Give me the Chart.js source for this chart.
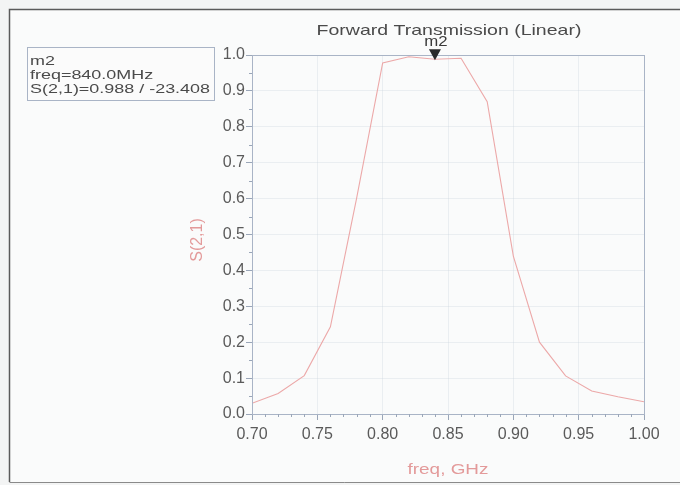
<!DOCTYPE html>
<html>
<head>
<meta charset="utf-8">
<script src="https://cdn.jsdelivr.net/npm/chart.js@4.4.0/dist/chart.umd.min.js"></script>
<style>
  html, body { margin: 0; padding: 0; background: #f3f4f4; }
  #wrap { width: 680px; height: 485px; position: relative; }
</style>
</head>
<body>
<div id="wrap"><canvas id="s21Chart" width="680" height="485"></canvas></div>
<script>
// frequency samples (GHz) and |S(2,1)|
const freqs = [0.70, 0.72, 0.74, 0.76, 0.78, 0.80, 0.82, 0.84, 0.86, 0.88, 0.90, 0.92, 0.94, 0.96, 0.98, 1.00];
const s21 = [0.030, 0.057, 0.107, 0.243, 0.600, 0.978, 0.995, 0.988, 0.991, 0.870, 0.440, 0.200, 0.106, 0.064, 0.048, 0.034];

const xTicks = [0.70, 0.75, 0.80, 0.85, 0.90, 0.95, 1.00];
const yTicks = [0.0, 0.1, 0.2, 0.3, 0.4, 0.5, 0.6, 0.7, 0.8, 0.9, 1.0];

// marker m2
const markerFreq = 0.84;
const markerVal = 0.988;
const markerLines = ["m2", "freq=840.0MHz", "S(2,1)=0.988 / -23.408"];

const FONT = "'Liberation Sans', Arial, sans-serif";

// text in the screenshot is a bit wide, so stretch it horizontally
function wideText(ctx, text, x, y, stretch, align) {
  ctx.save();
  ctx.translate(x, y);
  ctx.scale(stretch, 1);
  ctx.textAlign = align;
  ctx.fillText(text, 0, 0);
  ctx.restore();
}

// Plugin for frame, titles, minor ticks and marker
const decorPlugin = {
  id: "decor",
  beforeDraw(chart) {
    const ctx = chart.ctx;
    ctx.save();
    // page frame
    ctx.fillStyle = "#fafbfb";
    ctx.fillRect(9, 9, 680, 473);
    ctx.strokeStyle = "#5a5a5a";
    ctx.lineWidth = 1.5;
    ctx.beginPath();
    ctx.moveTo(9.5, 482);
    ctx.lineTo(9.5, 9.5);
    ctx.lineTo(680, 9.5);
    ctx.stroke();
    ctx.strokeStyle = "#8a8a8a";
    ctx.lineWidth = 1;
    ctx.beginPath();
    ctx.moveTo(9.5, 482.5);
    ctx.lineTo(680, 482.5);
    ctx.stroke();
    ctx.restore();
  },
  afterDraw(chart) {
    const ctx = chart.ctx;
    const area = chart.chartArea;
    const xs = chart.scales.x;
    const ys = chart.scales.y;
    ctx.save();

    // plot border
    ctx.strokeStyle = "#a9b4c6";
    ctx.lineWidth = 1;
    ctx.strokeRect(Math.round(area.left) + 0.5, Math.round(area.top) + 0.5,
      Math.round(area.right - area.left), Math.round(area.bottom - area.top));

    // minor ticks
    ctx.strokeStyle = "#9aa6b8";
    ctx.beginPath();
    for (let i = 1; i < 30; i++) {
      if (i % 5 === 0) continue;
      const px = Math.round(xs.getPixelForValue(0.70 + i * 0.01)) + 0.5;
      ctx.moveTo(px, area.bottom);
      ctx.lineTo(px, area.bottom + 3);
    }
    for (let i = 0; i < 10; i++) {
      const py = Math.round(ys.getPixelForValue(0.05 + i * 0.1)) + 0.5;
      ctx.moveTo(area.left - 3, py);
      ctx.lineTo(area.left, py);
    }
    ctx.stroke();

    // title
    ctx.fillStyle = "#4a4a4a";
    ctx.font = "15px " + FONT;
    ctx.textBaseline = "middle";
    wideText(ctx, "Forward Transmission (Linear)", 449, 31, 1.3, "center");

    // axis titles
    ctx.fillStyle = "#e39a9a";
    ctx.font = "14px " + FONT;
    wideText(ctx, "freq, GHz", 448, 470, 1.35, "center");
    ctx.save();
    ctx.translate(198, 240);
    ctx.rotate(-Math.PI / 2);
    ctx.font = "16px " + FONT;
    ctx.textAlign = "center";
    ctx.fillText("S(2,1)", 0, 0);
    ctx.restore();

    // marker triangle + label
    const mx = xs.getPixelForValue(markerFreq);
    const my = ys.getPixelForValue(markerVal);
    ctx.fillStyle = "#2a2a2a";
    ctx.beginPath();
    ctx.moveTo(mx, my + 1);
    ctx.lineTo(mx - 6, my - 10);
    ctx.lineTo(mx + 6, my - 10);
    ctx.closePath();
    ctx.fill();
    ctx.fillStyle = "#3a3a3a";
    ctx.font = "14px " + FONT;
    wideText(ctx, "m2", mx + 1, my - 17, 1.2, "center");

    // marker readout box
    ctx.fillStyle = "#fbfbfb";
    ctx.fillRect(27, 47, 187, 53);
    ctx.strokeStyle = "#a9b4c6";
    ctx.strokeRect(27.5, 47.5, 187, 53);
    ctx.fillStyle = "#4a4a4a";
    ctx.font = "13px " + FONT;
    markerLines.forEach(function (t, i) {
      wideText(ctx, t, 30, 61 + i * 14, 1.38, "left");
    });

    ctx.restore();
  }
};

const ctx = document.getElementById("s21Chart").getContext("2d");
new Chart(ctx, {
  type: "line",
  data: {
    datasets: [{
      label: "S(2,1)",
      data: freqs.map(function (f, i) { return { x: f, y: s21[i] }; }),
      borderColor: "#eca8a8",
      borderWidth: 1.1,
      pointRadius: 0,
      tension: 0,
      fill: false
    }]
  },
  options: {
    responsive: false,
    animation: false,
    layout: { padding: { left: 0, right: 36, top: 55, bottom: 0 } },
    plugins: {
      legend: { display: false },
      tooltip: { enabled: false },
      title: { display: false }
    },
    scales: {
      x: {
        type: "linear",
        min: 0.70,
        max: 1.00,
        afterFit: function (scale) { scale.height = 71; },
        afterBuildTicks: function (scale) {
          scale.ticks = xTicks.map(function (v) { return { value: v }; });
        },
        ticks: {
          color: "#5a5a5a",
          font: { family: FONT, size: 16 },
          padding: 5,
          maxRotation: 0,
          callback: function (v) { return Number(v).toFixed(2); }
        },
        grid: {
          color: "rgba(200,208,220,0.3)",
          tickColor: "#9aa6b8",
          tickLength: 6
        },
        border: { display: false }
      },
      y: {
        type: "linear",
        min: 0,
        max: 1,
        afterFit: function (scale) { scale.width = 252; },
        afterBuildTicks: function (scale) {
          scale.ticks = yTicks.map(function (v) { return { value: v }; });
        },
        ticks: {
          color: "#5a5a5a",
          font: { family: FONT, size: 16 },
          padding: 1,
          callback: function (v) { return Number(v).toFixed(1); }
        },
        grid: {
          color: "rgba(200,208,220,0.3)",
          tickColor: "#9aa6b8",
          tickLength: 6
        },
        border: { display: false }
      }
    }
  },
  plugins: [decorPlugin]
});
</script>
</body>
</html>
